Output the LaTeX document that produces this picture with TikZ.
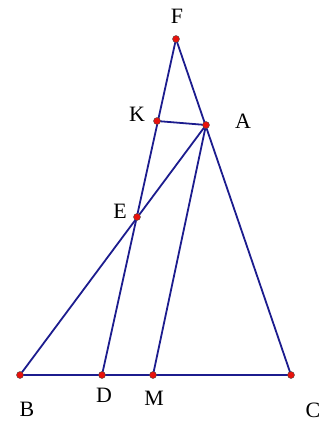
\documentclass[tikz,border=0pt]{standalone}
\usepackage{fontspec}
\setmainfont{Liberation Serif}
\usepackage{tikz}
\usetikzlibrary{positioning}
\definecolor{segblue}{HTML}{1C1C8E}
\definecolor{ptred}{HTML}{E8120C}
\tikzset{
  seg/.style={draw=segblue, line width=1.8bp},
  pt/.style={circle, fill=ptred, draw=black!70, line width=0.4bp, inner sep=0pt, minimum size=7bp},
  lbl/.style={font=\fontsize{22}{22}\selectfont, inner sep=0pt}
}
\begin{document}
\begin{tikzpicture}[x=1bp, y=-1bp]
  \useasboundingbox (0,0) rectangle (328,421);
  \coordinate (F) at (176,39);
  \coordinate (K) at (157,121);
  \coordinate (A) at (206,125);
  \coordinate (E) at (137,217);
  \coordinate (B) at (20,375);
  \coordinate (D) at (102,375);
  \coordinate (M) at (153,375);
  \coordinate (C) at (291,375);

  \draw[seg] (F) -- (D);
  \draw[seg] (F) -- (C);
  \draw[seg] (K) -- (A);
  \draw[seg] (B) -- (A);
  \draw[seg] (A) -- (M);
  \draw[seg] (B) -- (C);

  \foreach \p in {F,K,A,E,B,D,M,C}
    \node[pt] at (\p) {};

  \node[lbl] (lF) at (177,16) {F};
  \node[lbl] (lK) at (137,114) {K};
  \node[lbl] (lA) at (243,121) {A};
  \node[lbl] (lE) at (120,211) {E};
  \node[lbl] (lB) at (27,409) {B};
  \node[lbl] (lD) at (104,395) {D};
  \node[lbl] (lM) at (154,398) {M};
  \node[lbl] (lC) at (313,410) {C};
\end{tikzpicture}
\end{document}
